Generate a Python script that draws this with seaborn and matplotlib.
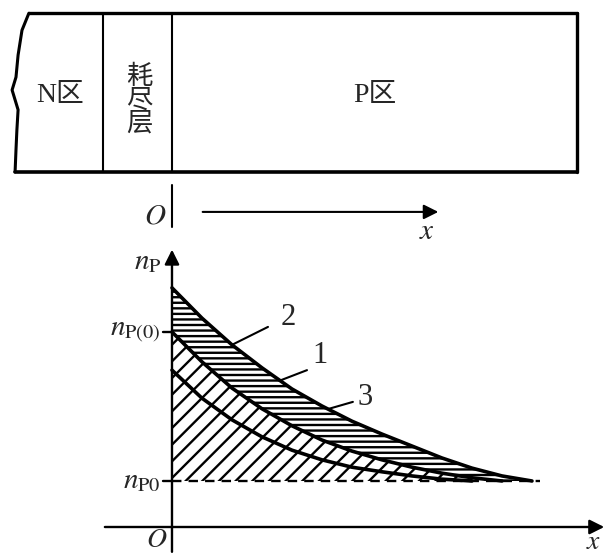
import numpy as np
import pandas as pd
import matplotlib.pyplot as plt
import seaborn as sns

# ---- datos (unidades arbitrarias, n_P0 = 1) ----
x_pos = np.arange(13) * 1.0
curva_2 = [5.20, 4.54, 3.96, 3.46, 3.00, 2.63, 2.30, 2.02, 1.76, 1.50, 1.28, 1.11, 1.00]
curva_1 = [4.24, 3.59, 3.02, 2.57, 2.20, 1.89, 1.65, 1.46, 1.30, 1.17, 1.07, 1.00]
curva_3 = [3.41, 2.80, 2.33, 1.96, 1.67, 1.46, 1.30, 1.20, 1.11, 1.04, 1.00]
n_p0 = 1.0
n_p_cero = curva_1[0]
fin_guion = 12.27

# etiquetas de las curvas: (texto, posicion del texto, inicio guia, x donde toca la curva 2)
etiquetas = [("2", (3.87, 4.56), (3.2, 4.35), 2.0),
             ("1", (4.93, 3.72), (4.5, 3.41), 3.6),
             ("3", (6.43, 2.82), (6.03, 2.72), 5.2)]

# ---- esquema de la union (parte superior) ----
caja_arriba, caja_abajo = 11.17, 7.72
borde_n, borde_p, borde_der = -2.3, 0.0, 13.5
borde_onda_x = [-4.77, -5.0, -5.13, -5.2, -5.33, -5.13, -5.17, -5.2, -5.23]
borde_onda_y = [11.17, 10.80, 10.26, 9.78, 9.50, 9.07, 8.63, 8.20, 7.72]

sns.set_theme(style="white")
plt.rcParams["mathtext.fontset"] = "stix"
plt.rcParams["hatch.linewidth"] = 1.7
plt.rcParams["font.family"] = ["Liberation Serif", "Noto Sans CJK SC"]

fig = plt.figure(figsize=(6.12, 5.54), dpi=100)
ax = fig.add_axes([0, 0, 1, 1])
ax.set_xlim(-5.733, 14.667)
ax.set_ylim(-0.587, 11.457)
ax.axis("off")

negro = "black"

# caja
ax.plot(borde_onda_x, borde_onda_y, color=negro, lw=2.2)
ax.plot([borde_onda_x[0], borde_der], [caja_arriba, caja_arriba], color=negro, lw=2.4)
ax.plot([borde_onda_x[-1], borde_der], [caja_abajo, caja_abajo], color=negro, lw=2.6)
ax.plot([borde_der, borde_der], [caja_abajo, caja_arriba], color=negro, lw=2.4)
ax.plot([borde_n, borde_n], [caja_abajo, caja_arriba], color=negro, lw=1.5)
ax.plot([borde_p, borde_p], [caja_abajo, caja_arriba], color=negro, lw=1.5)
ax.text(-3.73, 9.39, "N区", fontsize=20, ha="center", va="center")
ax.text(-1.1, 9.28, "耗\n尽\n层", fontsize=19, ha="center", va="center", linespacing=1.0)
ax.text(6.77, 9.39, "P区", fontsize=20, ha="center", va="center")

# origen y eje x del esquema
ax.plot([0, 0], [6.52, 7.43], color=negro, lw=1.5)
ax.text(-0.57, 6.74, "$O$", fontsize=21, ha="center", va="center")
ax.annotate("", xy=(8.97, 6.85), xytext=(0.93, 6.85),
            arrowprops=dict(arrowstyle="-|>", color=negro, lw=1.5, mutation_scale=22))
ax.text(8.5, 6.42, "$x$", fontsize=21, ha="center", va="center")

# ---- grafico de concentracion ----
df = pd.DataFrame({"x": x_pos, "c2": curva_2})
c1_interp = np.interp(x_pos, x_pos[:len(curva_1)], curva_1)

ax.fill_between(x_pos, c1_interp, curva_2, facecolor="none", edgecolor=negro,
                hatch="---", linewidth=0)
ax.fill_between(x_pos, n_p0, c1_interp, facecolor="none", edgecolor=negro,
                hatch="//", linewidth=0)

sns.lineplot(data=df, x="x", y="c2", ax=ax, color=negro, lw=2.6)
sns.lineplot(x=x_pos[:len(curva_1)], y=curva_1, ax=ax, color=negro, lw=2.6)
sns.lineplot(x=x_pos[:len(curva_3)], y=curva_3, ax=ax, color=negro, lw=2.6)

ax.plot([0, fin_guion], [n_p0, n_p0], color=negro, lw=1.7, linestyle=(0, (4, 3)))

# ejes con flechas
ax.annotate("", xy=(0, 6.09), xytext=(0, -0.6),
            arrowprops=dict(arrowstyle="-|>", color=negro, lw=1.7, mutation_scale=22))
ax.annotate("", xy=(14.5, 0), xytext=(-2.33, 0),
            arrowprops=dict(arrowstyle="-|>", color=negro, lw=1.7, mutation_scale=22))

# marcas y rotulos del eje y
for valor, texto in [(n_p_cero, r"$n_{\mathrm{P(0)}}$"), (n_p0, r"$n_{\mathrm{P0}}$")]:
    ax.plot([-0.3, 0], [valor, valor], color=negro, lw=1.7)
    ax.text(-0.38, valor, texto, fontsize=21, ha="right", va="center")
ax.text(-0.8, 5.76, r"$n_{\mathrm{P}}$", fontsize=21, ha="center", va="center")
ax.text(-0.5, -0.3, "$O$", fontsize=20, ha="center", va="center")
ax.text(14.05, -0.33, "$x$", fontsize=20, ha="center", va="center")

# numeros de las curvas con lineas guia
for texto, pos, inicio, x_toque in etiquetas:
    y_toque = np.interp(x_toque, x_pos, curva_2)
    ax.plot([inicio[0], x_toque], [inicio[1], y_toque], color=negro, lw=1.5)
    ax.text(pos[0], pos[1], texto, fontsize=22, ha="center", va="center")

fig.savefig("out.png", dpi=100)
